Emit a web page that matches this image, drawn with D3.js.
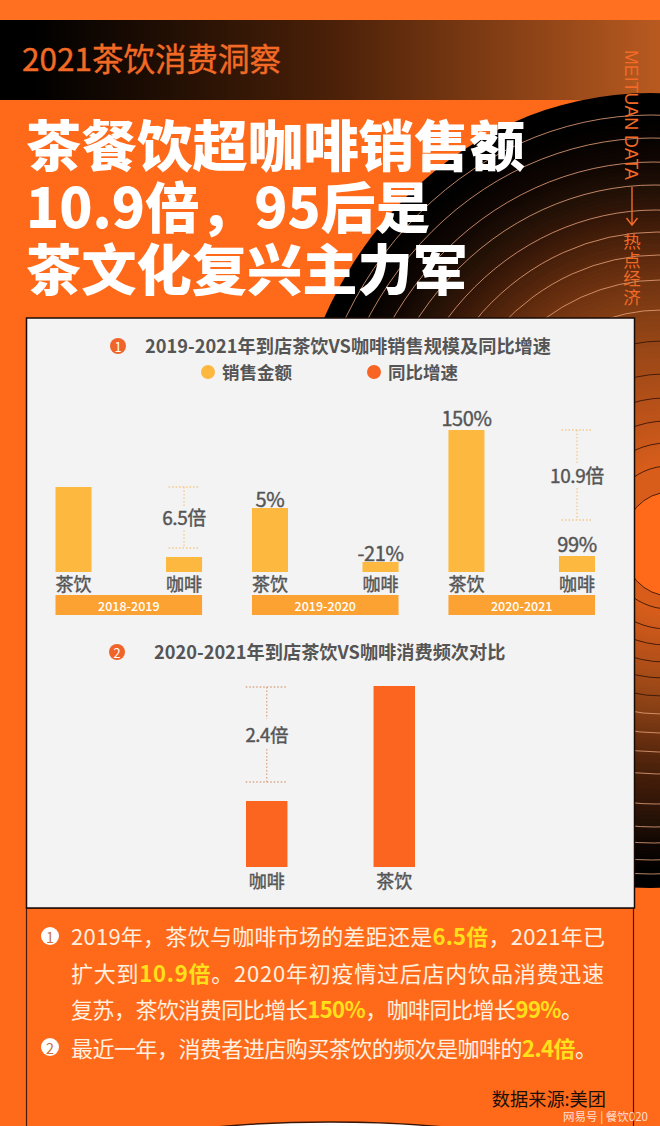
<!DOCTYPE html>
<html>
<head>
<meta charset="utf-8">
<script src="https://cdn.jsdelivr.net/npm/d3@7"></script>
<style>
  html, body { margin: 0; padding: 0; background: #ff6a1a; }
  svg { display: block; }
  text { font-family: "Noto Sans CJK SC", "Noto Sans", sans-serif; }
</style>
</head>
<body>
<script>
// sales index
var periods = ['2018-2019', '2019-2020', '2020-2021'];
var drinks = ['茶饮', '咖啡'];
var salesTea = [85, 64, 142];
var salesCoffee = [15, 10, 16];
var growthTea = ['', '5%', '150%'];
var growthCoffee = ['', '-21%', '99%'];
var multiples = ['6.5倍', '', '10.9倍'];

// visit frequency index
var freqNames = ['咖啡', '茶饮'];
var freqValues = [66, 181];
var freqMultiple = '2.4倍';

var titleLines = ['茶餐饮超咖啡销售额', '10.9倍，95后是', '茶文化复兴主力军'];

// record rings, y where each one crosses the right edge
var ringTop = [93, 115, 138, 162, 185, 210, 232, 255, 280, 310, 341, 374, 398, 421, 443, 466, 492];
var ringBot = [888, 874, 860, 843, 827, 804, 774, 752, 733, 714, 696, 678, 662, 645, 629, 609, 596];
var ringFill = ['#000000', '#000000', '#070301', '#120703', '#201006', '#331608', '#48200a', '#5c290d', '#713411', '#843e14', '#964616', '#a64c17', '#b45019', '#c0541a', '#cc591b', '#da5e1b', '#ff6a1a'];

var W = 660, H = 1126;
var svg = d3.select('body').append('svg').attr('width', W).attr('height', H);
var defs = svg.append('defs');

var orange = '#ff6a1a', gold = '#fdb93f', grey = '#555555';

// background
svg.append('rect').attr('width', W).attr('height', H).attr('fill', orange);
svg.append('rect').attr('width', W).attr('height', 100).attr('fill', '#ff7020');

var hg = defs.append('linearGradient').attr('id', 'head');
hg.append('stop').attr('offset', '0.05').attr('stop-color', '#000');
hg.append('stop').attr('offset', '0.5').attr('stop-color', '#4a2008');
hg.append('stop').attr('offset', '1').attr('stop-color', '#b85a20');
svg.append('rect').attr('y', 20).attr('width', W).attr('height', 80).attr('fill', 'url(#head)');

// record, many thin steps so the fill looks smooth
var disc = svg.append('g');
var n = ringTop.length - 1;
var steps = 6;
var topAt = d3.scaleLinear().domain(d3.range(n + 1)).range(ringTop);
var botAt = d3.scaleLinear().domain(d3.range(n + 1)).range(ringBot);
var fillAt = d3.scaleLinear().domain(d3.range(n + 1)).range(ringFill).interpolate(d3.interpolateRgb);
var cxAt = d3.scaleLinear().domain([0, n]).range([650, 670]);

function ringShape(sel, t) {
  var a = topAt(t), b = botAt(t);
  return sel.attr('cx', cxAt(t)).attr('cy', (a + b) / 2)
    .attr('rx', (b - a) / 2 * 0.91).attr('ry', (b - a) / 2);
}
d3.range(0, n * steps + 1).forEach(function(k) {
  var t = k / steps;
  if (t >= n - 1 && t < n) return;
  disc.append('ellipse').call(ringShape, t).attr('fill', fillAt(t));
});
d3.range(1, n + 1).forEach(function(i) {
  disc.append('ellipse').call(ringShape, i).attr('fill', 'none')
    .attr('stroke', i < 10 ? '#e8a27c' : '#3a1608')
    .attr('stroke-width', 1).attr('stroke-opacity', i < 10 ? 0.8 : 0.9);
});

// header text
svg.append('text').attr('x', 22).attr('y', 71).attr('font-size', 31.5)
  .attr('fill', '#f26a25').attr('stroke', '#f26a25').attr('stroke-width', 0.4)
  .text('2021茶饮消费洞察');

var side = svg.append('g').attr('fill', '#f26a25');
side.append('text').attr('transform', 'translate(625,50) rotate(90)')
  .attr('font-size', 19).attr('textLength', 130).attr('lengthAdjust', 'spacingAndGlyphs')
  .style('font-family', '"Liberation Sans"').text('MEITUAN DATA');
side.append('path').attr('d', 'M632 187V224M626.5 218L632 225L637.5 218')
  .attr('fill', 'none').attr('stroke', '#f26a25').attr('stroke-width', 1.4);
side.append('text').attr('x', 632).attr('y', 233)
  .style('writing-mode', 'vertical-rl').style('letter-spacing', '1px')
  .attr('font-size', 17.5).text('热点经济');

// big title
var titleW = [499, 404, 442];
svg.selectAll('.big').data(titleLines).enter().append('text')
  .attr('x', 26).attr('y', function(d, i) { return [166, 228, 290][i]; })
  .attr('font-size', 55).attr('font-weight', 900).attr('fill', '#fff')
  .attr('textLength', function(d, i) { return titleW[i]; }).attr('lengthAdjust', 'spacingAndGlyphs')
  .text(function(d) { return d; });

// white panel and lower frame
svg.append('rect').attr('x', 26.5).attr('y', 908).attr('width', 607).attr('height', 230)
  .attr('fill', 'none').attr('stroke', '#4a1a08').attr('stroke-width', 1.2);
svg.append('rect').attr('x', 26.5).attr('y', 318).attr('width', 608).attr('height', 590)
  .attr('fill', '#f3f3f3').attr('stroke', '#1a0a04').attr('stroke-width', 1.5);

function marker(x, y, r, bg, fg, label) {
  svg.append('circle').attr('cx', x).attr('cy', y).attr('r', r).attr('fill', bg);
  svg.append('text').attr('x', x).attr('y', y + 0.5).attr('text-anchor', 'middle')
    .attr('dominant-baseline', 'central').attr('font-size', r * 1.6).attr('fill', fg).text(label);
}
function sectionTitle(x, y, s) {
  svg.append('text').attr('x', x).attr('y', y).attr('font-size', 18.2).attr('font-weight', 700)
    .attr('dominant-baseline', 'central').attr('fill', grey).text(s);
}

marker(118, 346, 8, '#f0642a', '#fff', '1');
sectionTitle(145, 345, '2019-2021年到店茶饮VS咖啡销售规模及同比增速');

// legend
[[208, gold, '销售金额'], [374, '#f86423', '同比增速']].forEach(function(d) {
  svg.append('circle').attr('cx', d[0]).attr('cy', 372).attr('r', 7).attr('fill', d[1]);
  svg.append('text').attr('x', d[0] + 14).attr('y', 371.5).attr('font-size', 17.5).attr('font-weight', 700)
    .attr('dominant-baseline', 'central').attr('fill', grey).text(d[2]);
});

// chart 1
var x0 = d3.scaleBand().domain(periods).range([55.5, 595]).paddingInner(0.254);
var x1 = d3.scaleBand().domain(drinks).range([0, x0.bandwidth()]).paddingInner(0.674);
var y1 = d3.scaleLinear().domain([0, d3.max(salesTea)]).range([572, 430]);
var bracketGap = [9, 36];
var tagGap = [10, 10, 12.5];

function bracket(cx, half, top, bottom, gapTop, gapBot, color) {
  var g = svg.append('g').attr('fill', 'none').attr('stroke', color)
    .attr('stroke-width', 1.3).attr('stroke-dasharray', '1.5 2');
  g.append('line').attr('x1', cx - half).attr('x2', cx + half).attr('y1', top).attr('y2', top);
  g.append('line').attr('x1', cx - half).attr('x2', cx + half).attr('y1', bottom).attr('y2', bottom);
  g.append('line').attr('x1', cx).attr('x2', cx).attr('y1', top).attr('y2', gapTop);
  g.append('line').attr('x1', cx).attr('x2', cx).attr('y1', gapBot).attr('y2', bottom);
}
function midText(x, y, size, s) {
  svg.append('text').attr('x', x).attr('y', y).attr('text-anchor', 'middle')
    .attr('dominant-baseline', 'central').attr('font-size', size)
    .attr('fill', grey).attr('stroke', grey).attr('stroke-width', 0.4)
    .style('letter-spacing', '-0.4px').text(s);
}

periods.forEach(function(p, i) {
  var g = svg.append('g').attr('transform', 'translate(' + x0(p) + ',0)');
  var vals = [salesTea[i], salesCoffee[i]];
  var tags = [growthTea[i], growthCoffee[i]];

  g.selectAll('rect.bar').data(vals).enter().append('rect').attr('class', 'bar')
    .attr('x', function(d, k) { return x1(drinks[k]); })
    .attr('y', function(d) { return y1(d); })
    .attr('width', x1.bandwidth())
    .attr('height', function(d) { return y1(0) - y1(d); })
    .attr('fill', gold);

  tags.forEach(function(t, k) {
    if (!t) return;
    midText(x0(p) + x1(drinks[k]) + x1.bandwidth() / 2, y1(vals[k]) - tagGap[i], 20, t);
  });

  // category names through an axis, no line or ticks
  var ax = g.append('g').attr('transform', 'translate(0,572)')
    .call(d3.axisBottom(x1).tickSize(0).tickPadding(6));
  ax.select('.domain').remove();
  ax.selectAll('text').attr('font-size', 18).attr('fill', grey)
    .attr('stroke', grey).attr('stroke-width', 0.4)
    .style('font-family', '"Noto Sans CJK SC"');

  g.append('rect').attr('y', 595).attr('width', x0.bandwidth()).attr('height', 20).attr('fill', '#fba233');
  g.append('text').attr('x', x0.bandwidth() / 2).attr('y', 605).attr('text-anchor', 'middle')
    .attr('dominant-baseline', 'central').attr('font-size', 12.5).attr('font-weight', 500)
    .attr('fill', '#fff').text(p);

  if (multiples[i]) {
    var cx = x0(p) + x1('咖啡') + x1.bandwidth() / 2;
    var top = y1(salesTea[i]);
    var bottom = y1(salesCoffee[i]) - bracketGap[i === 0 ? 0 : 1];
    var mid = (top + bottom) / 2;
    bracket(cx, 15.5, top, bottom, mid - 11, mid + 13, '#f5c98a');
    midText(cx, mid - 1, 19, multiples[i]);
  }
});

// chart 2
marker(117, 652, 8, '#f0642a', '#fff', '2');
sectionTitle(154, 651, '2020-2021年到店茶饮VS咖啡消费频次对比');

var xF = d3.scaleBand().domain(freqNames).range([246, 415]).paddingInner(0.675);
var yF = d3.scaleLinear().domain([0, d3.max(freqValues)]).range([867, 686]);

svg.selectAll('rect.freq').data(freqValues).enter().append('rect').attr('class', 'freq')
  .attr('x', function(d, i) { return xF(freqNames[i]); })
  .attr('y', function(d) { return yF(d); })
  .attr('width', xF.bandwidth())
  .attr('height', function(d) { return yF(0) - yF(d); })
  .attr('fill', '#fb651f');

var axF = svg.append('g').attr('transform', 'translate(0,867)')
  .call(d3.axisBottom(xF).tickSize(0).tickPadding(8));
axF.select('.domain').remove();
axF.selectAll('text').attr('font-size', 18).attr('fill', grey)
  .attr('stroke', grey).attr('stroke-width', 0.4)
  .style('font-family', '"Noto Sans CJK SC"');

var cF = xF('咖啡') + xF.bandwidth() / 2;
bracket(cF, 21, yF(d3.max(freqValues)) + 1, yF(freqValues[0]) - 19, 719, 749, '#dca584');
midText(cF, 734, 18.5, freqMultiple);

// notes
var noteLines = [
  [['2019年，茶饮与咖啡市场的差距还是'], ['6.5倍', 1], ['，2021年已']],
  [['扩大到'], ['10.9倍', 1], ['。2020年初疫情过后店内饮品消费迅速']],
  [['复苏，茶饮消费同比增长'], ['150%', 1], ['，咖啡同比增长'], ['99%', 1], ['。']],
  [['最近一年，消费者进店购买茶饮的频次是咖啡的'], ['2.4倍', 1], ['。']]
];
var noteY = [935, 972, 1008, 1047];
var noteW = [534, 533, 512, 526];
noteLines.forEach(function(parts, i) {
  var t = svg.append('text').attr('x', 71).attr('y', noteY[i]).attr('font-size', 22)
    .attr('textLength', noteW[i]).attr('lengthAdjust', 'spacing')
    .attr('dominant-baseline', 'central').attr('fill', '#fff0e0');
  parts.forEach(function(p) {
    t.append('tspan').attr('fill', p[1] ? '#ffe01a' : null)
      .attr('font-weight', p[1] ? 700 : null).text(p[0]);
  });
});
marker(50, 936, 9, '#fff', '#c9703a', '1');
marker(50, 1047, 9, '#fff', '#c9703a', '2');

svg.append('text').attr('x', 606).attr('y', 1098).attr('text-anchor', 'end').attr('font-size', 18.2)
  .attr('dominant-baseline', 'central').attr('fill', '#1c1008').text('数据来源:美团');

// badge at the bottom edge
svg.append('ellipse').attr('cx', 330).attr('cy', 1180).attr('rx', 275).attr('ry', 58)
  .attr('fill', '#fff').attr('stroke', '#3a1608').attr('stroke-width', 1.5);

svg.append('text').attr('x', 648).attr('y', 1116).attr('text-anchor', 'end').attr('font-size', 11.5)
  .attr('dominant-baseline', 'central').attr('fill', '#fff').attr('fill-opacity', 0.8).text('网易号 | 餐饮020');
</script>
</body>
</html>
